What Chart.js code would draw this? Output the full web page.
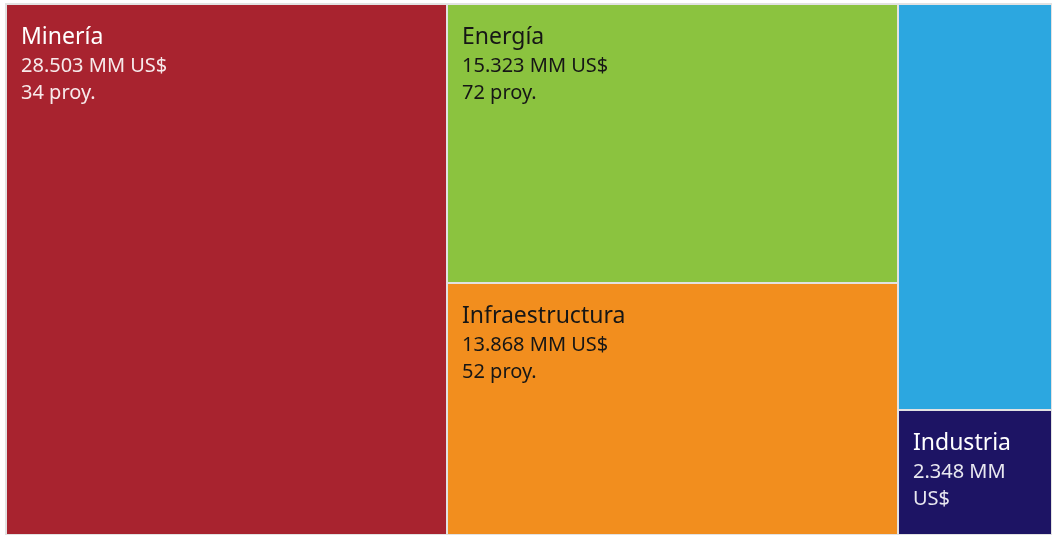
<!DOCTYPE html>
<html>
<head>
<meta charset="utf-8">
<script src="https://cdn.jsdelivr.net/npm/chart.js@4/dist/chart.umd.min.js"></script>
<style>
html,body{margin:0;padding:0;background:#fff;}
#wrap{width:1052px;height:535px;position:relative;}
</style>
</head>
<body>
<div id="wrap"><canvas id="c"></canvas></div>
<script>
// ---- data ----
const categories = ['Minería', 'Energía', 'Infraestructura', 'Otros', 'Industria'];
const investmentMM = [28503, 15323, 13868, 7600, 2348];
const projectCounts = [34, 72, 52, null, null];
const valueLabels = ['28.503 MM US$', '15.323 MM US$', '13.868 MM US$', '', '2.348 MM US$'];
const hiddenLabels = ['Otros'];

// ---- styles ----
const tileColors = ['#a8232f', '#8bc33f', '#f28e1e', '#2ca7e0', '#1d1464'];
const textColors = ['#ffffff', '#161616', '#161616', '#ffffff', '#ffffff'];
const subTextColors = ['rgba(255,255,255,0.9)', '#161616', '#161616', '#ffffff', 'rgba(255,255,255,0.9)'];
const FONT = '"Noto Sans", "Open Sans", sans-serif';
const NAME_FONT = '23px ' + FONT;
const SUB_FONT = '20px ' + FONT;

function squarify(values, rect) {
  const out = [];
  const total = values.reduce((s, v) => s + v, 0);
  const scale = rect.w * rect.h / total;
  const items = values.map((v, i) => ({ i, a: v * scale })).sort((p, q) => q.a - p.a);
  const r = { ...rect };
  let row = [];
  const sum = rw => rw.reduce((t, o) => t + o.a, 0);
  function worst(rw, side) {
    const s = sum(rw);
    const mx = Math.max(...rw.map(o => o.a));
    const mn = Math.min(...rw.map(o => o.a));
    return Math.max(side * side * mx / (s * s), (s * s) / (side * side * mn));
  }
  function layoutRow(rw) {
    const s = sum(rw);
    if (r.w >= r.h) {
      const cw = s / r.h; let yy = r.y;
      rw.forEach(o => { const hh = o.a / cw; out[o.i] = { x: r.x, y: yy, w: cw, h: hh }; yy += hh; });
      r.x += cw; r.w -= cw;
    } else {
      const rh = s / r.w; let xx = r.x;
      rw.forEach(o => { const ww = o.a / rh; out[o.i] = { x: xx, y: r.y, w: ww, h: rh }; xx += ww; });
      r.y += rh; r.h -= rh;
    }
  }
  while (items.length) {
    const side = Math.min(r.w, r.h);
    const next = items[0];
    if (row.length === 0 || worst([...row, next], side) <= worst(row, side)) {
      row.push(next); items.shift();
    } else {
      layoutRow(row); row = [];
    }
  }
  if (row.length) layoutRow(row);
  return out;
}

function wrapWords(ctx, text, maxW) {
  const words = text.split(' ');
  const lines = []; let cur = '';
  words.forEach(w => {
    const t = cur ? cur + ' ' + w : w;
    if (ctx.measureText(t).width <= maxW || !cur) cur = t;
    else { lines.push(cur); cur = w; }
  });
  if (cur) lines.push(cur);
  return lines;
}

const treemapPlugin = {
  id: 'treemapTiles',
  afterDatasetsDraw(chart) {
    const { ctx, chartArea: a, scales: { x, y } } = chart;
    const aspect = a.width / a.height;
    const rects = squarify(investmentMM, { x: 0, y: 0, w: aspect, h: 1 });
    ctx.save();
    ctx.fillStyle = '#e2e2e2';
    ctx.fillRect(a.left - 1, a.top - 1, a.width + 1, a.height + 1);
    rects.forEach((rc, i) => {
      const x0 = x.getPixelForValue(rc.x / aspect);
      const x1 = x.getPixelForValue((rc.x + rc.w) / aspect);
      const y0 = y.getPixelForValue(rc.y);
      const y1 = y.getPixelForValue(rc.y + rc.h);
      const L = Math.round(x0) + 1, T = Math.round(y0) + 1;
      const R = Math.round(x1) - 1, B = Math.round(y1) - 1;
      ctx.fillStyle = tileColors[i];
      ctx.fillRect(L, T, R - L, B - T);
      if (hiddenLabels.includes(categories[i])) return;
      const padX = 14, maxW = (R - L) - 2 * padX;
      const lines = [];
      ctx.font = NAME_FONT;
      wrapWords(ctx, categories[i], maxW).forEach(t => lines.push({ t, f: NAME_FONT, c: textColors[i] }));
      ctx.font = SUB_FONT;
      if (valueLabels[i]) wrapWords(ctx, valueLabels[i], maxW).forEach(t => lines.push({ t, f: SUB_FONT, c: subTextColors[i] }));
      if (projectCounts[i] != null) wrapWords(ctx, projectCounts[i] + ' proy.', maxW).forEach(t => lines.push({ t, f: SUB_FONT, c: subTextColors[i] }));
      ctx.textBaseline = 'alphabetic';
      ctx.textAlign = 'left';
      let base = T + 39;
      for (const ln of lines) {
        if (base + 6 > B) break;
        ctx.font = ln.f; ctx.fillStyle = ln.c;
        ctx.fillText(ln.t, L + padX, base);
        base += 27.5;
      }
    });
    ctx.restore();
  }
};

new Chart(document.getElementById('c'), {
  type: 'scatter',
  data: { datasets: [{ data: [], pointRadius: 0 }] },
  options: {
    responsive: true,
    maintainAspectRatio: false,
    animation: false,
    layout: { padding: { left: 6, top: 4, right: 0, bottom: 0 } },
    scales: {
      x: { type: 'linear', min: 0, max: 1, display: false },
      y: { type: 'linear', min: 0, max: 1, reverse: true, display: false }
    },
    plugins: { legend: { display: false }, tooltip: { enabled: false } }
  },
  plugins: [treemapPlugin]
});
</script>
</body>
</html>
